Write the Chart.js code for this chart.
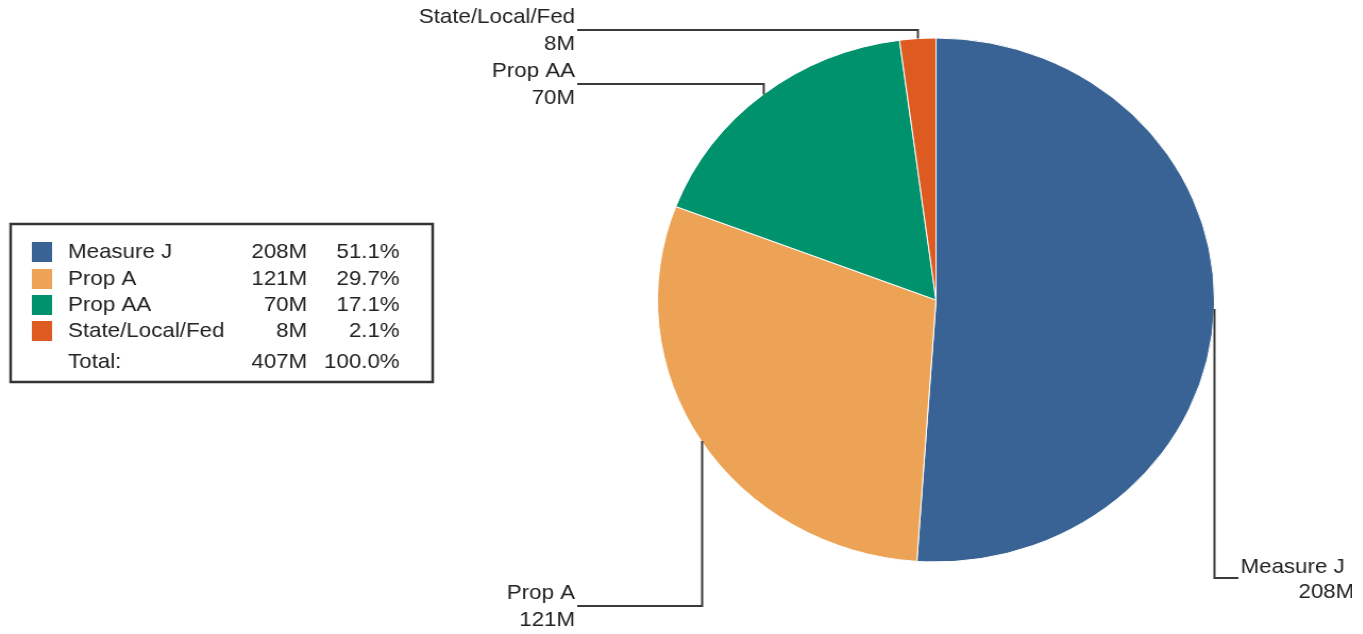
<!DOCTYPE html>
<html>
<head>
<meta charset="utf-8">
<script src="https://cdn.jsdelivr.net/npm/chart.js@4.4.1/dist/chart.umd.min.js"></script>
<style>
  html, body { margin: 0; padding: 0; background: #fff; overflow: hidden; }
  /* the reference is a little wider than tall, so stretch the drawing */
  #wrap { position: absolute; left: 0; top: 0; width: 1272px; height: 634px;
          transform: scaleX(1.063); transform-origin: 0 0; overflow: hidden; }
</style>
</head>
<body>
<div id="wrap"><canvas id="pie"></canvas></div>
<script>
// data
const labels = ['Measure J', 'Prop A', 'Prop AA', 'State/Local/Fed'];
const values = [207.9, 120.9, 69.6, 8.5];
const valueText = ['208M', '121M', '70M', '8M'];
const percentText = ['51.1%', '29.7%', '17.1%', '2.1%'];
const totalText = ['Total:', '407M', '100.0%'];
const colors = ['#396394', '#eca355', '#00916d', '#dd5a20'];

const FONT = '21px "Liberation Sans", Arial, sans-serif';
const TEXT = '#222';

// callout line height for each slice (y of horizontal leg)
const calloutY = [578, 606, 84, 30];

const calloutPlugin = {
    id: 'callouts',
    afterDatasetsDraw(chart) {
        const ctx = chart.ctx;
        const arcs = chart.getDatasetMeta(0).data;
        const leftEdge = 543, rightEdge = 1165;
        ctx.save();
        ctx.font = FONT;
        ctx.fillStyle = TEXT;
        ctx.strokeStyle = '#3a3a3a';
        ctx.lineWidth = 2;
        ctx.textBaseline = 'middle';
        arcs.forEach((arc, i) => {
            const p = arc.getProps(['x', 'y', 'startAngle', 'endAngle', 'outerRadius'], true);
            const mid = (p.startAngle + p.endAngle) / 2;
            const ax = p.x + p.outerRadius * Math.cos(mid);
            const ay = p.y + p.outerRadius * Math.sin(mid);
            const ly = calloutY[i];
            const left = ax < p.x;
            const ex = left ? leftEdge : rightEdge;
            ctx.beginPath();
            ctx.moveTo(Math.round(ax) + 0.5, ay);
            ctx.lineTo(Math.round(ax) + 0.5, ly);
            ctx.lineTo(ex, ly);
            ctx.stroke();
            if (left) {
                ctx.textAlign = 'right';
                ctx.fillText(labels[i], leftEdge - 2, ly - 13);
                ctx.fillText(valueText[i], leftEdge - 2, ly + 14);
            } else {
                // right side label runs off the edge in the reference
                ctx.textAlign = 'left';
                ctx.fillText(labels[i], rightEdge + 2, ly - 11);
                const w = ctx.measureText(labels[i]).width;
                ctx.textAlign = 'right';
                ctx.fillText(valueText[i], rightEdge + 2 + w + 9, ly + 14);
            }
        });
        ctx.restore();
    }
};

const legendPlugin = {
    id: 'legendBox',
    afterDraw(chart) {
        const ctx = chart.ctx;
        const rowY = [252, 279, 305, 331];
        ctx.save();
        ctx.strokeStyle = '#333';
        ctx.lineWidth = 2.5;
        ctx.strokeRect(10, 224, 397, 158);
        ctx.font = FONT;
        ctx.fillStyle = TEXT;
        ctx.textBaseline = 'middle';
        labels.forEach((l, i) => {
            ctx.fillStyle = colors[i];
            ctx.fillRect(30, rowY[i] - 10, 19, 20);
            ctx.fillStyle = TEXT;
            ctx.textAlign = 'left';
            ctx.fillText(l, 64, rowY[i]);
            ctx.textAlign = 'right';
            ctx.fillText(valueText[i], 289, rowY[i]);
            ctx.fillText(percentText[i], 376, rowY[i]);
        });
        ctx.textAlign = 'left';
        ctx.fillText(totalText[0], 64, 362);
        ctx.textAlign = 'right';
        ctx.fillText(totalText[1], 289, 362);
        ctx.fillText(totalText[2], 376, 362);
        ctx.restore();
    }
};

new Chart(document.getElementById('pie'), {
    type: 'pie',
    data: {
        labels,
        datasets: [{data: values, backgroundColor: colors, borderColor: '#fff', borderWidth: 1}]
    },
    options: {
        responsive: true,
        maintainAspectRatio: false,
        animation: false,
        radius: 262,
        layout: {padding: {left: 600, right: 111, top: 38, bottom: 72}},
        plugins: {legend: {display: false}, tooltip: {enabled: false}}
    },
    plugins: [calloutPlugin, legendPlugin]
});
</script>
</body>
</html>
